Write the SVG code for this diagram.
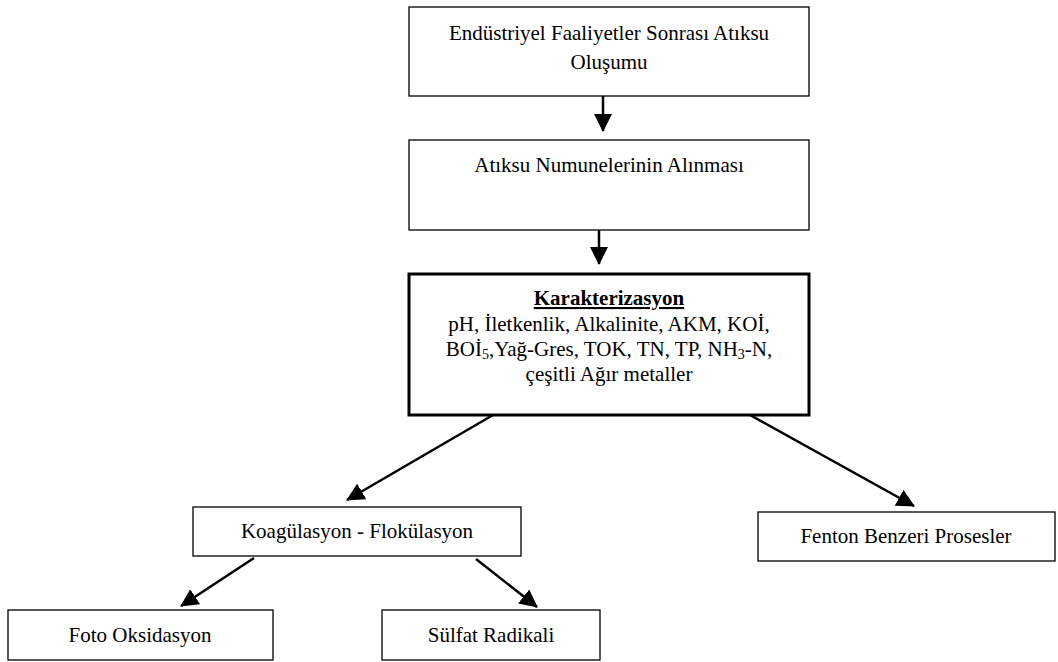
<svg xmlns="http://www.w3.org/2000/svg" width="1058" height="662" viewBox="0 0 1058 662">
  <style>
    .box { fill: #ffffff; stroke: #000000; stroke-width: 1.3; }
    .box-bold { fill: #ffffff; stroke: #000000; stroke-width: 3; }
    .label { font-family: "Liberation Serif", "Times New Roman", serif; font-size: 21px; fill: #000000; text-anchor: middle; }
    .title { font-weight: bold; text-decoration: underline; }
    .link { stroke: #000000; stroke-width: 2.5; fill: none; marker-end: url(#arrow); }
  </style>
  <defs>
    <marker id="arrow" markerUnits="userSpaceOnUse" markerWidth="18" markerHeight="18" viewBox="0 0 18 18" refX="17" refY="9" orient="auto">
      <path d="M0,0 L18,9 L0,18 Z" fill="#000000"/>
    </marker>
  </defs>
  <rect width="1058" height="662" fill="#ffffff"/>

  <g id="connectors">
    <line class="link" x1="603" y1="96" x2="603" y2="131"/>
    <line class="link" x1="599" y1="230" x2="599" y2="264"/>
    <line class="link" x1="493" y1="415" x2="347" y2="500"/>
    <line class="link" x1="750" y1="415" x2="914" y2="506"/>
    <line class="link" x1="254" y1="558" x2="181" y2="606"/>
    <line class="link" x1="476" y1="559" x2="537" y2="607"/>
  </g>

  <g id="node-olusum">
    <rect class="box" x="409" y="7" width="400" height="89"/>
    <text class="label" x="609" y="40">Endüstriyel Faaliyetler Sonrası Atıksu</text>
    <text class="label" x="609" y="69">Oluşumu</text>
  </g>

  <g id="node-numune">
    <rect class="box" x="409" y="140" width="400" height="90"/>
    <text class="label" x="609" y="172">Atıksu Numunelerinin Alınması</text>
  </g>

  <g id="node-karakterizasyon">
    <rect class="box-bold" x="409" y="274" width="400" height="141"/>
    <text class="label title" x="609" y="305">Karakterizasyon</text>
    <text class="label" x="609" y="331">pH, İletkenlik, Alkalinite, AKM, KOİ,</text>
    <text class="label" x="609" y="356">BOİ<tspan font-size="14" dy="3">5</tspan><tspan dy="-3">,Yağ-Gres, TOK, TN, TP, NH</tspan><tspan font-size="14" dy="3">3</tspan><tspan dy="-3">-N,</tspan></text>
    <text class="label" x="609" y="381">çeşitli Ağır metaller</text>
  </g>

  <g id="node-koagulasyon">
    <rect class="box" x="193" y="507" width="328" height="49"/>
    <text class="label" x="357" y="538">Koagülasyon - Flokülasyon</text>
  </g>

  <g id="node-fenton">
    <rect class="box" x="758" y="512" width="297" height="49"/>
    <text class="label" x="906" y="543">Fenton Benzeri Prosesler</text>
  </g>

  <g id="node-foto">
    <rect class="box" x="8" y="610" width="265" height="50"/>
    <text class="label" x="140" y="642">Foto Oksidasyon</text>
  </g>

  <g id="node-sulfat">
    <rect class="box" x="382" y="610" width="218" height="50"/>
    <text class="label" x="491" y="642">Sülfat Radikali</text>
  </g>
</svg>
